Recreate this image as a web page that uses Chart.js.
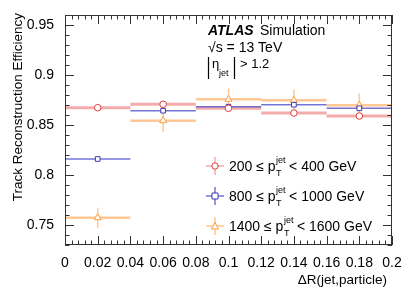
<!DOCTYPE html>
<html>
<head>
<meta charset="utf-8">
<script src="https://cdn.jsdelivr.net/npm/chart.js@4"></script>
<style>
  html, body { margin: 0; padding: 0; background: #fff; }
  #wrap { width: 407px; height: 292px; }
</style>
</head>
<body>
<div id="wrap"><canvas id="effChart" width="407" height="292"></canvas></div>
<script>
const binCenters = [0.02, 0.06, 0.1, 0.14, 0.18];
const binHalfWidth = 0.02;

const effLow = [0.8673, 0.8707, 0.8667, 0.862, 0.859];     // 200-400 GeV
const effMid = [0.816, 0.8643, 0.8683, 0.8703, 0.8667];    // 800-1000 GeV
const effHigh = [0.7573, 0.8543, 0.8757, 0.8747, 0.8697];  // 1400-1600 GeV

const errLow = [0.001, 0.001, 0.001, 0.001, 0.001];
const errMid = [0.001, 0.001, 0.001, 0.001, 0.001];
const errHigh = [0.010, 0.011, 0.011, 0.011, 0.012];

const xTicks = [0, 0.02, 0.04, 0.06, 0.08, 0.1, 0.12, 0.14, 0.16, 0.18, 0.2];
const yTicks = [0.75, 0.8, 0.85, 0.9, 0.95];

const FONT = "'Liberation Sans', Arial, sans-serif";

const series = [
  { label: ["200", "400"], y: effLow, err: errLow, marker: "circle", color: "#e03a3a", band: "rgba(232,90,90,0.5)", bandW: 3 },
  { label: ["800", "1000"], y: effMid, err: errMid, marker: "rect", color: "#3c3cb4", band: "rgba(70,70,200,0.75)", bandW: 1.6 },
  { label: ["1400", "1600"], y: effHigh, err: errHigh, marker: "triangle", color: "#ff9a3c", band: "rgba(255,170,90,0.65)", bandW: 2.6 },
];

// error bars drawn through the scales, before the markers
const errorBars = {
  id: "errorBars",
  beforeDatasetsDraw(chart) {
    const { ctx, scales: { x, y } } = chart;
    ctx.save();
    series.forEach((s) => {
      binCenters.forEach((c, i) => {
        const py = y.getPixelForValue(s.y[i]);
        ctx.strokeStyle = s.band;
        ctx.lineWidth = s.bandW;
        ctx.beginPath();
        ctx.moveTo(x.getPixelForValue(c - binHalfWidth), py);
        ctx.lineTo(x.getPixelForValue(c + binHalfWidth), py);
        ctx.stroke();
        ctx.lineWidth = 1.5;
        ctx.beginPath();
        ctx.moveTo(x.getPixelForValue(c), y.getPixelForValue(s.y[i] - s.err[i]));
        ctx.lineTo(x.getPixelForValue(c), y.getPixelForValue(s.y[i] + s.err[i]));
        ctx.stroke();
      });
    });
    ctx.restore();
  },
};

// ROOT-style inward ticks on all four sides, plus the texts
const rootFrame = {
  id: "rootFrame",
  afterDraw(chart) {
    const { ctx, chartArea: a, scales: { x, y } } = chart;
    ctx.save();
    ctx.strokeStyle = "#333";
    ctx.lineWidth = 1;
    ctx.strokeRect(a.left + 0.5, a.top + 0.5, a.right - a.left - 1, a.bottom - a.top - 1);
    ctx.beginPath();
    for (let k = 0; k <= 50; k++) {
      const px = Math.round(x.getPixelForValue(k * 0.004)) + 0.5;
      const len = k % 5 === 0 ? 9 : 4.5;
      ctx.moveTo(px, a.bottom); ctx.lineTo(px, a.bottom - len);
      ctx.moveTo(px, a.top); ctx.lineTo(px, a.top + len);
    }
    for (let k = 73; k <= 96; k++) {
      const py = Math.round(y.getPixelForValue(k / 100)) + 0.5;
      const len = k % 5 === 0 ? 9 : 4.5;
      ctx.moveTo(a.left, py); ctx.lineTo(a.left + len, py);
      ctx.moveTo(a.right, py); ctx.lineTo(a.right - len, py);
    }
    ctx.stroke();

    ctx.fillStyle = "#000";
    ctx.textBaseline = "alphabetic";

    // axis titles
    ctx.font = "13.5px " + FONT;
    ctx.textAlign = "right";
    ctx.fillText("\u0394R(jet,particle)", a.right - 5, 284);
    ctx.save();
    ctx.translate(22, a.top - 2);
    ctx.rotate(-Math.PI / 2);
    ctx.fillText("Track Reconstruction Efficiency", 0, 0);
    ctx.restore();

    // ATLAS label
    ctx.textAlign = "left";
    ctx.font = "italic bold 14px " + FONT;
    ctx.fillText("ATLAS", 208, 35);
    ctx.font = "14px " + FONT;
    ctx.fillText("Simulation", 260, 35);
    ctx.fillText("\u221As = 13 TeV", 208, 52);

    // |eta_jet| > 1.2 with tall bars
    ctx.strokeStyle = "#000";
    ctx.lineWidth = 1.2;
    ctx.beginPath();
    ctx.moveTo(208.5, 57); ctx.lineTo(208.5, 79);
    ctx.moveTo(234.5, 57); ctx.lineTo(234.5, 79);
    ctx.stroke();
    ctx.font = "13px " + FONT;
    ctx.fillText("\u03b7", 212, 68);
    ctx.font = "9px " + FONT;
    ctx.fillText("jet", 219, 76);
    ctx.font = "13px " + FONT;
    ctx.fillText("> 1.2", 240, 68);

    // legend
    series.forEach((s, i) => {
      const cy = 166 + i * 30;
      const cx = 215;
      ctx.strokeStyle = s.band;
      ctx.lineWidth = 1.5;
      ctx.beginPath();
      ctx.moveTo(cx - 9, cy); ctx.lineTo(cx + 9, cy);
      ctx.moveTo(cx, cy - 9); ctx.lineTo(cx, cy + 9);
      ctx.stroke();
      ctx.strokeStyle = s.color;
      ctx.fillStyle = "#fff";
      ctx.lineWidth = 1;
      ctx.beginPath();
      if (s.marker === "circle") ctx.arc(cx, cy, 3.2, 0, Math.PI * 2);
      else if (s.marker === "rect") ctx.rect(cx - 3, cy - 3, 6, 6);
      else { ctx.moveTo(cx, cy - 3.5); ctx.lineTo(cx + 3.5, cy + 3); ctx.lineTo(cx - 3.5, cy + 3); ctx.closePath(); }
      ctx.fill();
      ctx.stroke();

      ctx.fillStyle = "#000";
      ctx.font = "14px " + FONT;
      let tx = 229;
      const base = cy + 5;
      const t1 = s.label[0] + " \u2264 p";
      ctx.fillText(t1, tx, base);
      tx += ctx.measureText(t1).width;
      ctx.font = "9px " + FONT;
      ctx.fillText("jet", tx + 0.5, base - 8);
      ctx.fillText("T", tx + 0.5, base + 5);
      tx += ctx.measureText("jet").width + 2;
      ctx.font = "14px " + FONT;
      ctx.fillText("< " + s.label[1] + " GeV", tx + 2, base);
    });
    ctx.restore();
  },
};

function makeDataset(s) {
  return {
    label: s.label.join("-"),
    data: binCenters.map((c, i) => ({ x: c, y: s.y[i] })),
    showLine: false,
    pointStyle: s.marker,
    pointRadius: s.marker === "triangle" ? 4 : 3.3,
    pointBorderWidth: 1,
    borderColor: s.color,
    backgroundColor: "#fff",
  };
}

const chart = new Chart(document.getElementById("effChart"), {
  type: "scatter",
  data: { datasets: series.map(makeDataset) },
  options: {
    responsive: false,
    animation: false,
    layout: { padding: { left: 0, right: 15, top: 15, bottom: 0 } },
    plugins: { legend: { display: false }, tooltip: { enabled: false } },
    scales: {
      x: {
        type: "linear",
        min: 0,
        max: 0.2,
        afterBuildTicks: (sc) => { sc.ticks = xTicks.map((v) => ({ value: v })); },
        afterFit: (sc) => { sc.height = 47; },
        grid: { display: false },
        border: { display: false },
        ticks: {
          color: "#000",
          padding: 2,
          maxRotation: 0,
          autoSkip: false,
          font: { family: FONT, size: 14 },
          callback: (v) => String(Math.round(v * 100) / 100),
        },
      },
      y: {
        type: "linear",
        min: 0.73,
        max: 0.96,
        afterBuildTicks: (sc) => { sc.ticks = yTicks.map((v) => ({ value: v })); },
        afterFit: (sc) => { sc.width = 65; },
        grid: { display: false },
        border: { display: false },
        ticks: {
          color: "#000",
          padding: 3,
          autoSkip: false,
          font: { family: FONT, size: 14 },
          callback: (v) => String(Math.round(v * 100) / 100),
        },
      },
    },
  },
  plugins: [errorBars, rootFrame],
});
</script>
</body>
</html>
